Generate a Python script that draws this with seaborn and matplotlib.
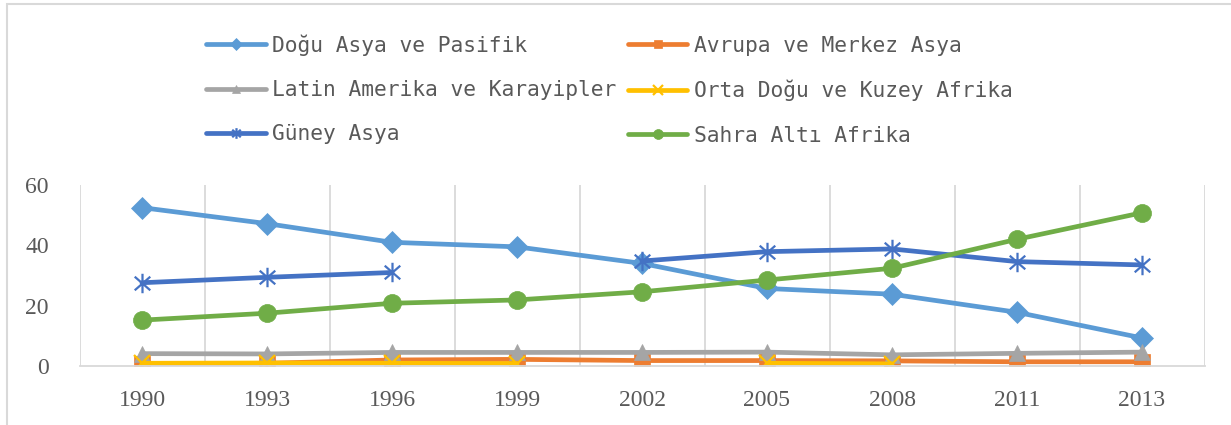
import numpy as np
import pandas as pd
import matplotlib
matplotlib.use("Agg")
import matplotlib.pyplot as plt
import seaborn as sns
from matplotlib.patches import Rectangle
from matplotlib.path import Path

years = ["1990", "1993", "1996", "1999", "2002", "2005", "2008", "2011", "2013"]
nan = np.nan
dogu_asya = [52.5, 47.2, 41.0, 39.5, 34.0, 25.7, 23.8, 17.8, 9.3]
avrupa = [0.6, 0.9, 2.0, 2.2, 1.8, 1.8, 1.7, 1.4, 1.4]
latin = [4.1, 4.0, 4.5, 4.5, 4.5, 4.6, 3.7, 4.2, 4.6]
orta_dogu = [0.9, 1.0, 0.9, 0.8, nan, 0.9, 0.7, nan, nan]
guney_asya = [27.6, 29.4, 31.0, nan, 34.8, 37.9, 38.8, 34.6, 33.5]
sahra = [15.2, 17.5, 20.8, 21.9, 24.6, 28.5, 32.4, 42.0, 50.8]

series_names = ["Doğu Asya ve Pasifik", "Avrupa ve Merkez Asya",
                "Latin Amerika ve Karayipler", "Orta Doğu ve Kuzey Afrika",
                "Güney Asya", "Sahra Altı Afrika"]
series_values = [dogu_asya, avrupa, latin, orta_dogu, guney_asya, sahra]
colors = ["#5B9BD5", "#ED7D31", "#A5A5A5", "#FFC000", "#4472C4", "#70AD47"]

star = Path([(0, -1), (0, 1), (-0.8, -0.7), (0.8, 0.7), (-0.8, 0.7), (0.8, -0.7)],
            [Path.MOVETO, Path.LINETO, Path.MOVETO, Path.LINETO, Path.MOVETO, Path.LINETO])
markers = ["D", "s", "^", "x", star, "o"]
msizes = [11, 11, 11, 12, 14, 13]
unfilled = [False, False, False, True, True, False]

sns.set_theme(style="white")

fig = plt.figure(figsize=(12.31, 4.25), dpi=100)
ax = fig.add_axes([79.5 / 1231, 1 - 366 / 425, 1125 / 1231, 181 / 425])

for name, vals, col, mk, ms, uf in zip(series_names, series_values, colors,
                                       markers, msizes, unfilled):
    df = pd.DataFrame({"x": np.arange(len(years)), "y": vals})
    df["seg"] = df["y"].isna().cumsum()
    df = df.dropna()
    first = True
    for s, part in df.groupby("seg"):
        sns.lineplot(data=part, x="x", y="y", ax=ax, color=col, lw=3.4,
                     marker=mk, markersize=ms,
                     markeredgecolor=col,
                     markeredgewidth=1.6 if uf else 0.5,
                     estimator=None, sort=False,
                     label=name if first else "_nolegend_")
        first = False

ax.set_xlim(-0.5, len(years) - 0.5)
ax.set_ylim(0, 60)
ax.set_xticks(np.arange(len(years)))
ax.set_xticklabels(years)
ax.set_yticks([0, 20, 40, 60])
ax.set_xlabel("")
ax.set_ylabel("")
for b in np.arange(-0.5, len(years), 1.0):
    ax.axvline(b, color="#D9D9D9", lw=1.3, zorder=0)
for sp in ["top", "right", "left"]:
    ax.spines[sp].set_visible(False)
ax.spines["bottom"].set_color("#D9D9D9")
ax.spines["bottom"].set_linewidth(1.3)
ax.tick_params(axis="both", length=0, labelcolor="#595959")
ax.tick_params(axis="x", pad=17)
ax.tick_params(axis="y", pad=22)
for lab in ax.get_xticklabels() + ax.get_yticklabels():
    lab.set_fontfamily("Liberation Serif")
    lab.set_fontsize(17)

handles, labels = ax.get_legend_handles_labels()
if ax.get_legend() is not None:
    ax.get_legend().remove()
order = [0, 2, 4, 1, 3, 5]
handles = [handles[i] for i in order]
labels = [labels[i] for i in order]
leg = fig.legend(handles, labels, ncol=2, loc="upper left",
                 bbox_to_anchor=(206 / 1231, 1 - 34 / 425),
                 frameon=False, borderpad=0, borderaxespad=0,
                 handlelength=2.8, handletextpad=0.3, columnspacing=0.55,
                 labelspacing=1.15, markerscale=0.55,
                 prop={"family": "DejaVu Sans Mono", "size": 15.3})
for t in leg.get_texts():
    t.set_color("#595959")

fig.patches.append(Rectangle((6.5 / 1231, -0.1), 1.2, 1.1 - 4.5 / 425,
                             transform=fig.transFigure, fill=False,
                             edgecolor="#D9D9D9", lw=1.5, zorder=-1))

fig.savefig("out.png", dpi=100)
